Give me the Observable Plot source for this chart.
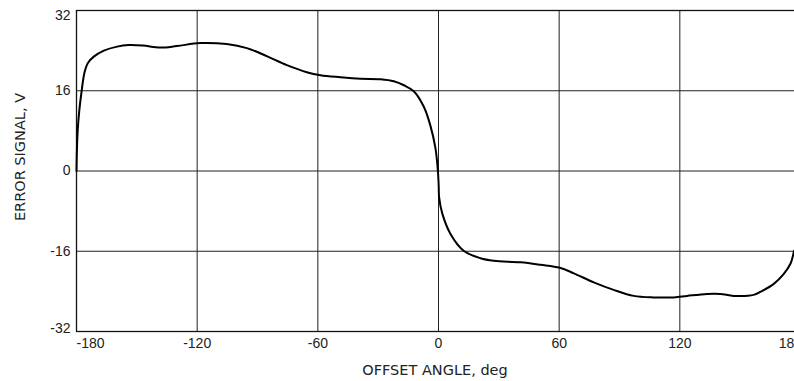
<!DOCTYPE html>
<html>
<head>
<meta charset="utf-8">
<script src="https://cdn.jsdelivr.net/npm/d3@7"></script>
<script src="https://cdn.jsdelivr.net/npm/@observablehq/plot@0.6"></script>
<style>
  html, body { margin: 0; padding: 0; background: #fff; overflow: hidden; width: 794px; height: 381px; }
  #chart { position: relative; width: 794px; height: 381px; overflow: hidden; }
  #chart svg { max-width: none !important; }
  .ytitle { position: absolute; left: 20px; top: 157px; transform: translate(-50%, -50%) rotate(-90deg); font-family: "DejaVu Sans", sans-serif; font-size: 14.5px; white-space: nowrap; color: #222; }
  .xtitle { position: absolute; left: 435px; top: 370px; transform: translate(-50%, -50%); font-family: "DejaVu Sans", sans-serif; font-size: 14.5px; white-space: nowrap; color: #222; }
</style>
</head>
<body>
<div id="chart"></div>
<script>
const angle = [-180, -179.8, -179.4, -178.6, -177.4, -176.1, -174.4, -171.4, -166.4, -159.8, -154, -147, -138.5, -130.2, -118.5, -105.3, -95.3, -85.4, -75.4, -65.5, -58.7, -48.8, -38.8, -28.8, -22.2, -17.2, -12.3, -7.3, -4, -1.5, -0.3, 0.1, 0.3, 1.9, 5.9, 12.5, 20.9, 27.5, 40.8, 50.7, 60.3, 67.3, 77.2, 87.1, 97.1, 107, 117, 123.6, 133.5, 140.1, 146.8, 156.7, 161, 166.7, 171.7, 175, 176.8];
const signal = [0, 4, 8.1, 12.1, 16.1, 19.5, 21.5, 22.8, 24.0, 24.8, 25.1, 25.0, 24.6, 24.9, 25.5, 25.3, 24.5, 22.9, 21.1, 19.7, 19.1, 18.7, 18.4, 18.3, 17.9, 17.1, 15.9, 12.8, 9.0, 4.5, 0, -3, -5.2, -8.5, -12.5, -15.9, -17.4, -17.9, -18.2, -18.7, -19.3, -20.4, -22.2, -23.7, -24.9, -25.2, -25.2, -24.9, -24.5, -24.5, -24.9, -24.7, -23.9, -22.5, -20.5, -18.5, -15.9];
const xTicks = [-180, -120, -60, 0, 60, 120, 180];
const yTicks = [-32, -16, 0, 16, 32];

const data = angle.map((a, i) => ({angle: a, signal: signal[i]}));
const fmt = d => String(d);
const tickStyle = {tickSize: 0, tickFormat: fmt, label: null, fontSize: 14};
const xInner = xTicks.slice(1, -1);
const yInner = yTicks.slice(1, -1);

const chart = Plot.plot({
  width: 810,
  height: 381,
  marginLeft: 76,
  marginRight: 10,
  marginTop: 10,
  marginBottom: 50,
  style: {fontFamily: "'Liberation Sans', Arial, sans-serif", fontSize: "14px", color: "#222", background: "#fff", overflow: "visible"},
  x: {domain: [-180, 180], label: null},
  y: {domain: [-32, 32], label: null},
  marks: [
    Plot.ruleX(xTicks, {stroke: "#222", strokeWidth: 1}),
    Plot.ruleY(yTicks, {stroke: "#222", strokeWidth: 1}),
    Plot.frame({stroke: "#111", strokeWidth: 1.3}),
    Plot.axisX(xInner, {...tickStyle, tickPadding: 7}),
    Plot.axisX([xTicks[0]], {...tickStyle, tickPadding: 7, textAnchor: "start"}),
    Plot.axisX([xTicks[xTicks.length - 1]], {...tickStyle, tickPadding: 7, dx: -10}),
    Plot.axisY(yInner, {...tickStyle, tickPadding: 6}),
    Plot.axisY([yTicks[yTicks.length - 1]], {...tickStyle, tickPadding: 6, dy: 5}),
    Plot.axisY([yTicks[0]], {...tickStyle, tickPadding: 6, dy: -3}),
    Plot.line(data, {x: "angle", y: "signal", curve: "catmull-rom", stroke: "#000", strokeWidth: 2})
  ]
});
const host = document.getElementById("chart");
host.appendChild(chart);
const yt = document.createElement("div"); yt.className = "ytitle"; yt.textContent = "ERROR SIGNAL, V"; host.appendChild(yt);
const xt = document.createElement("div"); xt.className = "xtitle"; xt.textContent = "OFFSET ANGLE, deg"; host.appendChild(xt);
</script>
</body>
</html>
